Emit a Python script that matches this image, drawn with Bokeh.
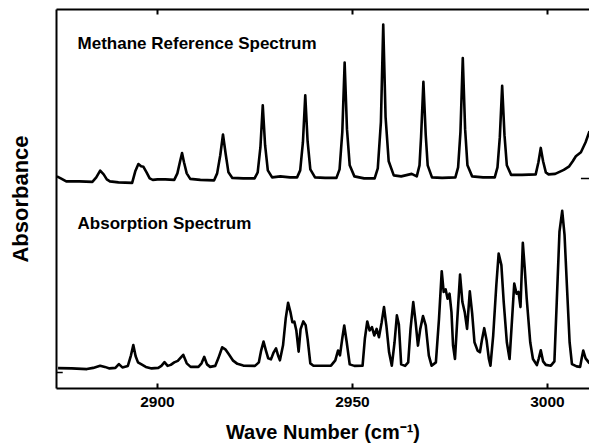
from bokeh.plotting import figure
from bokeh.models import LinearAxis, FixedTicker, Label
from bokeh.embed import file_html
from bokeh.resources import INLINE

# ---- data ----
wavenumber_ticks = [2900, 2950, 3000]
x_start, x_end = 2874.1, 3010.8
y_start, y_end = 0.0, 3.77

methane_x = [2874.2, 2875.2, 2876.6, 2880.0, 2883.3,
             2884.3, 2885.3, 2886.2, 2887.0, 2887.8, 2890.0, 2893.5,
             2894.3, 2895.1, 2895.8, 2896.4, 2897.2, 2898.0, 2898.8,
             2900.0, 2902.0, 2904.3,
             2905.1, 2905.8, 2906.3, 2906.8, 2907.5, 2908.4,
             2911.0, 2914.5,
             2915.3, 2916.1, 2916.8, 2917.5, 2918.2, 2919.2,
             2922.0, 2924.9,
             2925.7, 2926.4, 2927.0, 2927.6, 2928.3, 2929.4,
             2931.5, 2934.0, 2935.8,
             2936.6, 2937.3, 2937.9, 2938.5, 2939.2, 2940.4,
             2943.0, 2945.9,
             2946.7, 2947.4, 2948.0, 2948.6, 2949.3, 2950.5,
             2953.0, 2955.7,
             2956.5, 2957.3, 2957.9, 2958.5, 2959.3, 2960.6,
             2962.5, 2965.2, 2966.5,
             2967.2, 2967.6, 2968.2, 2968.8, 2969.3, 2970.4,
             2973.0, 2976.4,
             2977.1, 2977.7, 2978.3, 2978.9, 2979.5, 2980.7,
             2983.5, 2986.5,
             2987.2, 2987.8, 2988.4, 2989.0, 2989.6, 2990.7,
             2993.5, 2997.0,
             2997.7, 2998.3, 2998.9, 2999.6, 3000.3,
             3002.0, 3004.2, 3005.6, 3006.5, 3007.3, 3008.6, 3009.8, 3010.8]
methane_y = [2.11, 2.09, 2.06, 2.06, 2.055,
             2.10, 2.167, 2.13, 2.08, 2.06, 2.05, 2.045,
             2.16, 2.233, 2.21, 2.205, 2.15, 2.09, 2.075,
             2.08, 2.08, 2.075,
             2.14, 2.26, 2.343, 2.25, 2.14, 2.085,
             2.075, 2.07,
             2.14, 2.32, 2.527, 2.33, 2.15, 2.095,
             2.09, 2.09,
             2.15, 2.40, 2.817, 2.42, 2.17, 2.10,
             2.11, 2.10, 2.10,
             2.17, 2.45, 2.917, 2.46, 2.18, 2.10,
             2.095, 2.095,
             2.18, 2.55, 3.243, 2.58, 2.22, 2.11,
             2.09, 2.09,
             2.19, 2.65, 3.62, 2.70, 2.26, 2.12,
             2.11, 2.135, 2.11,
             2.22, 2.50, 3.05, 2.52, 2.22, 2.10,
             2.095, 2.10,
             2.20, 2.55, 3.287, 2.58, 2.22, 2.11,
             2.10, 2.10,
             2.20, 2.50, 3.01, 2.52, 2.22, 2.125,
             2.125, 2.13,
             2.25, 2.393, 2.26, 2.15, 2.13,
             2.135, 2.175, 2.21, 2.26, 2.31, 2.35, 2.45, 2.56]

sample_x = [2874.5, 2878.0, 2881.9, 2883.5, 2885.3, 2886.5, 2887.7, 2889.2, 2890.1, 2891.0,
            2892.4, 2893.2, 2893.8, 2894.4, 2895.0, 2895.9, 2897.0, 2898.5, 2900.2, 2901.0,
            2901.8, 2902.6, 2903.4, 2904.3, 2905.2, 2906.6, 2907.5, 2908.5, 2910.5, 2911.3,
            2912.0, 2912.7, 2913.5, 2914.8, 2915.6, 2916.6, 2917.4, 2918.3, 2919.4, 2920.5,
            2922.0, 2925.0, 2926.0, 2926.6, 2927.2, 2927.8, 2928.4, 2929.1, 2929.8, 2930.4,
            2931.0, 2931.4, 2932.2, 2932.9, 2933.5, 2934.1, 2934.6, 2935.1, 2935.6, 2936.2,
            2936.7, 2937.4, 2938.0, 2938.5, 2939.2, 2940.0, 2944.5, 2945.6, 2946.3, 2946.8,
            2947.4, 2947.9, 2948.5, 2949.3, 2950.5, 2952.6, 2953.2, 2953.8, 2954.4, 2955.0,
            2955.6, 2956.2, 2956.8, 2957.5, 2958.1, 2958.7, 2959.4, 2960.1, 2960.8, 2961.4,
            2961.9, 2962.5, 2963.5, 2964.3, 2964.9, 2965.6, 2966.2, 2966.8, 2967.4, 2968.1,
            2968.8, 2969.6, 2970.3, 2971.4, 2972.2, 2972.9, 2973.4, 2973.9, 2974.4, 2974.9,
            2975.4, 2975.8, 2976.3, 2976.9, 2977.6, 2978.2, 2978.8, 2979.4, 2980.1, 2980.7,
            2981.3, 2982.1, 2982.7, 2983.2, 2983.8, 2984.4, 2985.0, 2985.4, 2986.1, 2986.9,
            2987.5, 2988.2, 2988.8, 2989.6, 2990.3, 2991.0, 2991.5, 2992.1, 2992.6, 2993.1,
            2993.7, 2994.2, 2994.7, 2995.6, 2996.3, 2997.3, 2997.8, 2998.3, 2998.9, 2999.6,
            3000.9, 3001.8, 3002.4, 3003.1, 3003.8, 3004.4, 3005.0, 3005.7, 3006.3, 3007.5,
            3008.4, 3008.8, 3009.2, 3009.8, 3010.8]
sample_y = [0.203, 0.20, 0.193, 0.205, 0.227, 0.215, 0.20, 0.205, 0.243, 0.21,
            0.225, 0.33, 0.433, 0.32, 0.26, 0.24, 0.215, 0.20, 0.205, 0.225,
            0.262, 0.225, 0.235, 0.26, 0.275, 0.335, 0.25, 0.215, 0.215, 0.25,
            0.315, 0.24, 0.215, 0.225, 0.30, 0.41, 0.39, 0.34, 0.277, 0.245,
            0.228, 0.225, 0.26, 0.38, 0.467, 0.38, 0.30, 0.29, 0.36, 0.40,
            0.32, 0.28, 0.43, 0.70, 0.853, 0.76, 0.66, 0.665, 0.58, 0.367,
            0.59, 0.667, 0.63, 0.493, 0.25, 0.227, 0.227, 0.28, 0.377, 0.33,
            0.50, 0.627, 0.47, 0.24, 0.225, 0.227, 0.50, 0.667, 0.577, 0.61,
            0.527, 0.593, 0.51, 0.66, 0.81, 0.627, 0.36, 0.227, 0.46, 0.727,
            0.64, 0.24, 0.225, 0.26, 0.593, 0.86, 0.66, 0.427, 0.593, 0.72,
            0.627, 0.327, 0.227, 0.26, 0.693, 1.167, 0.96, 0.987, 0.893, 0.943,
            0.76, 0.43, 0.293, 0.693, 1.133, 0.86, 0.76, 0.593, 0.967, 0.75,
            0.46, 0.377, 0.36, 0.48, 0.60, 0.48, 0.293, 0.227, 0.527, 1.027,
            1.343, 1.227, 0.86, 0.46, 0.293, 0.727, 1.043, 0.943, 0.96, 0.81,
            1.45, 1.19, 0.893, 0.46, 0.293, 0.233, 0.30, 0.38, 0.27, 0.235,
            0.227, 0.27, 0.86, 1.56, 1.767, 1.527, 1.027, 0.46, 0.243, 0.22,
            0.215, 0.30, 0.377, 0.30, 0.25]

# baseline markers (zero levels of the two traces)
marker_x0 = [2874.1, 3008.6]
marker_x1 = [2875.7, 3010.8]
marker_y = [0.16, 2.09]

titles = ["Methane Reference Spectrum", "Absorption Spectrum"]
title_x = [2879.5, 2879.5]
title_y = [3.435, 1.64]

FONT = "Liberation Sans"

p = figure(width=589, height=445, x_range=(x_start, x_end), y_range=(y_start, y_end),
           output_backend="svg", toolbar_location=None,
           x_axis_location=None, y_axis_location=None,
           min_border_left=56, min_border_right=0, min_border_top=9, min_border_bottom=0)
p.outline_line_color = None
p.xgrid.visible = False
p.ygrid.visible = False
p.background_fill_color = "white"

# bottom axis
xb = LinearAxis(ticker=FixedTicker(ticks=wavenumber_ticks, minor_ticks=[]),
                axis_label="Wave Number (cm\u207b\u00b9)")
xb.axis_line_width = 2
xb.axis_line_color = "black"
xb.major_tick_in = 5
xb.major_tick_out = 0
xb.major_tick_line_width = 2
xb.minor_tick_line_color = None
xb.major_label_standoff = 8
xb.major_label_text_font = FONT
xb.major_label_text_font_style = "bold"
xb.major_label_text_font_size = "15.5px"
xb.major_label_text_color = "black"
xb.axis_label_standoff = 11
xb.axis_label_text_font = FONT
xb.axis_label_text_font_style = "bold"
xb.axis_label_text_font_size = "20px"
xb.axis_label_text_color = "black"
p.add_layout(xb, "below")

# top axis (frame line with inward ticks, no labels)
xt = LinearAxis(ticker=FixedTicker(ticks=wavenumber_ticks, minor_ticks=[]))
xt.axis_line_width = 2
xt.major_tick_in = 5
xt.major_tick_out = 0
xt.major_tick_line_width = 2
xt.minor_tick_line_color = None
xt.major_label_text_font_size = "1px"
xt.major_label_text_color = None
xt.major_label_standoff = 0
p.add_layout(xt, "above")

# left axis (frame line + rotated label)
yl = LinearAxis(ticker=FixedTicker(ticks=[], minor_ticks=[]), axis_label="Absorbance")
yl.axis_line_width = 2
yl.major_tick_line_color = None
yl.minor_tick_line_color = None
yl.major_label_text_font_size = "1px"
yl.major_label_text_color = None
yl.major_label_standoff = 0
yl.axis_label_standoff = 24
yl.axis_label_text_font = FONT
yl.axis_label_text_font_style = "bold"
yl.axis_label_text_font_size = "22px"
yl.axis_label_text_color = "black"
p.add_layout(yl, "left")

p.line(methane_x, methane_y, line_color="black", line_width=2.6, line_join="round")
p.line(sample_x, sample_y, line_color="black", line_width=2.6, line_join="round")
p.segment(x0=marker_x0, y0=marker_y, x1=marker_x1, y1=marker_y, line_color="black", line_width=1.5)

for t, tx, ty in zip(titles, title_x, title_y):
    p.add_layout(Label(x=tx, y=ty, text=t, text_font=FONT, text_font_style="bold",
                       text_font_size="17px", text_baseline="middle", text_color="black"))

open("out.html", "w").write(file_html(p, INLINE))
